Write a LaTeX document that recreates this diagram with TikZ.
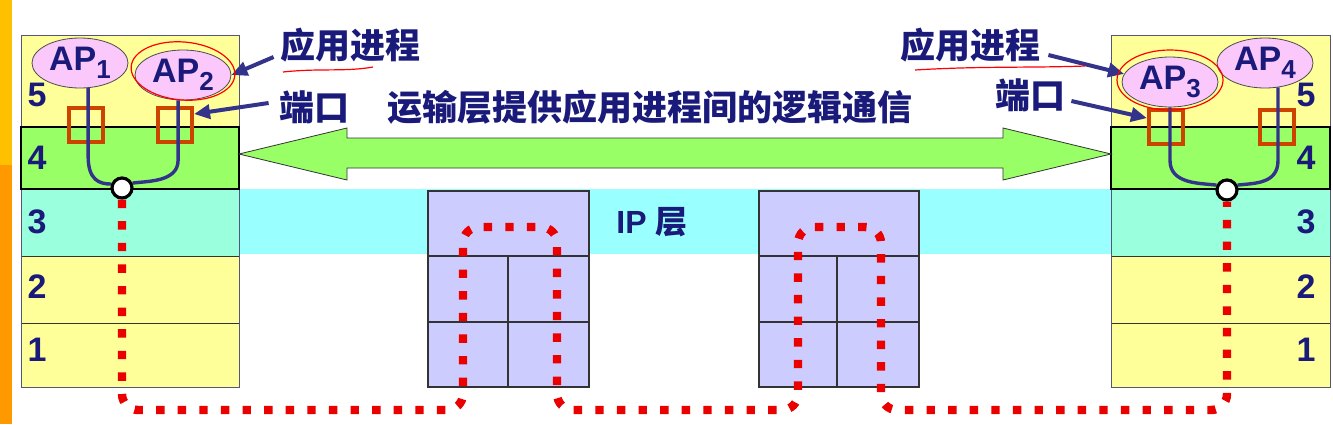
\documentclass[tikz,border=0pt]{standalone}
\usepackage{fontspec}
\setmainfont{Liberation Sans}
\newfontfamily\cjk{Noto Sans CJK SC}
\usetikzlibrary{shapes.geometric, arrows.meta, positioning, calc}
\definecolor{cNavy}{RGB}{26,26,122}
\definecolor{cYellow}{RGB}{255,255,153}
\definecolor{cGreen}{RGB}{153,255,102}
\definecolor{cMint}{RGB}{153,255,221}
\definecolor{cCyan}{RGB}{153,255,255}
\definecolor{cLilac}{RGB}{204,204,255}
\definecolor{cPink}{RGB}{250,200,250}
\definecolor{cPort}{RGB}{204,68,0}
\definecolor{cWire}{RGB}{51,51,140}
\definecolor{cDot}{RGB}{235,0,0}
\definecolor{cEdge}{RGB}{85,85,120}
\definecolor{cGold}{RGB}{255,192,0}
\definecolor{cOrange}{RGB}{255,153,0}
\newcommand\apsub[1]{\raisebox{-0.45ex}{\fontsize{13}{13}\selectfont #1}}
\tikzset{
	apnode/.style ={ellipse, draw=black!70, fill=cPink, minimum width=48pt, minimum height=25pt, inner sep=0pt, text=cNavy, font=\bfseries\fontsize{17}{17}\selectfont},
	port/.style   ={rectangle, draw=cPort, line width=2pt, minimum size=17pt, inner sep=0pt},
	joint/.style  ={circle, draw=black, line width=1.6pt, fill=white, minimum size=10pt, inner sep=0pt},
	laynum/.style ={text=cNavy, font=\bfseries\fontsize{17}{17}\selectfont},
	cjklbl/.style ={text=cNavy, font=\cjk\bfseries\fontsize{17.5}{17.5}\selectfont, inner sep=0pt},
	pointer/.style={-{Triangle[length=8pt,width=7pt]}, line width=2pt, draw=cWire},
	wire/.style   ={line width=1.7pt, draw=cWire},
	route/.style  ={line width=4.2pt, draw=cDot, dash pattern=on 4.2pt off 6.6pt, rounded corners=8pt},
	scrib/.style  ={draw=red, line width=0.6pt},
}
\begin{document}
\begin{tikzpicture}[x=0.5pt, y=-0.5pt]
	\useasboundingbox[fill=white] (0,0) rectangle (1333,424);
	\fill[cGold] (0,0) rectangle (12,165);
	\fill[cOrange] (0,165) rectangle (12,424);
	% IP band
	\fill[cCyan] (239,189) rectangle (1111,254);
	% host stacks
	\foreach \xa/\xb in {21/239, 1111/1330} {
		\fill[cYellow] (\xa,35) rectangle (\xb,127);
		\fill[cMint] (\xa,189) rectangle (\xb,256);
		\fill[cYellow] (\xa,256) rectangle (\xb,387);
		\draw[black!80] (\xa,256) -- (\xb,256) (\xa,323) -- (\xb,323);
		\draw[cEdge] (\xa,35) rectangle (\xb,387);
		\draw[fill=cGreen, line width=1.2pt] (\xa,127) rectangle (\xb,189);
	}
	% routers
	\foreach \xa/\xm/\xb in {428/508/589, 759/837/919} {
		\draw[fill=cLilac, draw=black!80, line width=0.8pt] (\xa,191) rectangle (\xb,387);
		\draw[black!80, line width=0.8pt] (\xa,256) -- (\xb,256) (\xa,322) -- (\xb,322) (\xm,256) -- (\xm,387);
	}
	% transport arrow
	\draw[fill=cGreen, draw=black!80] (239,154) -- (347,128) -- (347,138) -- (1003,138) -- (1003,128) -- (1111,154)
		-- (1003,180) -- (1003,168) -- (347,168) -- (347,180) -- cycle;
	\foreach \n/\y in {5/95,4/158,3/222,2/287,1/350} {
		\node[laynum] (nl\n) at (37,\y) {\n};
		\node[laynum] (nr\n) at (1306,\y) {\n};
	}
	\node[apnode] (ap1) at (80,63) {AP\apsub{1}};
	\node[apnode] (ap2) at (183,75) {AP\apsub{2}};
	\node[apnode] (ap3) at (1170,82) {AP\apsub{3}};
	\node[apnode] (ap4) at (1265,63) {AP\apsub{4}};
	\node[port] (pl1) at (86,125) {};
	\node[port] (pl2) at (175,125) {};
	\node[port] (pr1) at (1166,127) {};
	\node[port] (pr2) at (1277,127) {};
	\node[joint] (jl) at (122,188) {};
	\node[joint] (jr) at (1227,190) {};
	\draw[wire] (ap1.-72) -- ++(0,68) .. controls +(0,24) and +(-12,0) .. (jl.160);
	\draw[wire] (ap2.-101) -- ++(0,60) .. controls +(0,22) and +(14,-2) .. (jl.25);
	\draw[wire] (ap3.south) -- ++(0,53) .. controls +(0,24) and +(-16,-2) .. (jr.155);
	\draw[wire] (ap4.-62) -- ++(0,73) .. controls +(0,24) and +(16,-2) .. (jr.25);
	% data path
	\draw[route] (jl.south) -- (122,410) -- (463,410) -- (463,227) -- (557,227) -- (557,410) -- (798,410)
		-- (798,227) -- (881,227) -- (881,410) -- (1227,410) -- (jr.south);
	\node[cjklbl] (lblapl) at (350,45) {应用进程};
	\node[cjklbl] (lblptl) at (314,107) {端口};
	\node[cjklbl] (lblmid) at (650,107) {运输层提供应用进程间的逻辑通信};
	\node[cjklbl] (lblapr) at (970,45) {应用进程};
	\node[cjklbl] (lblptr) at (1030,95) {端口};
	\node[text=cNavy, font=\bfseries\fontsize{16}{16}\selectfont] (iplbl) at (652,222) {IP {\cjk 层}};
	\draw[pointer] ([xshift=-3pt,yshift=-6pt]lblapl.west) -- (ap2.east);
	\draw[pointer] ([xshift=-5pt,yshift=2pt]lblptl.west) -- (pl2.30);
	\draw[pointer] ([xshift=4pt,yshift=-5pt]lblapr.east) -- (ap3.170);
	\draw[pointer] ([xshift=3pt,yshift=-3pt]lblptr.east) -- (pr1.155);
	% red marks
	\draw[scrib] ([yshift=2pt]ap2.center) ellipse [x radius=26pt, y radius=14.5pt, rotate=-5];
	\draw[scrib] ([yshift=1pt]ap3.center) ellipse [x radius=26.5pt, y radius=15pt];
	\draw[scrib] (283,72) .. controls (320,68) and (345,72) .. (373,67);
	\draw[scrib] (915,70) .. controls (980,66) and (1030,68) .. (1085,66);
\end{tikzpicture}
\end{document}
